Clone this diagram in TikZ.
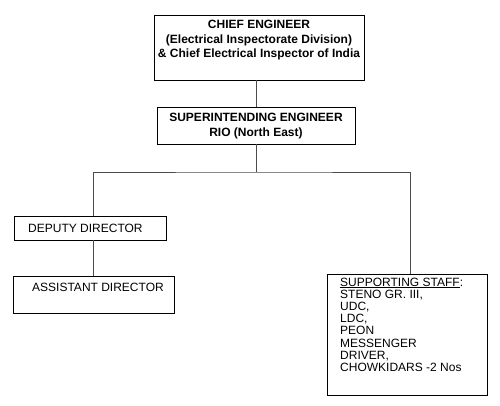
\documentclass[tikz,border=0pt]{standalone}
\usepackage{fontspec}
\setmainfont{Liberation Sans}

\begin{document}
\begin{tikzpicture}[x=1pt,y=-1pt,
        post/.style={draw,line width=0.8pt,inner sep=0pt},
        link/.style={draw=black!70,line width=0.8pt},
        bold/.style={font=\fontsize{12}{14.5}\selectfont\bfseries,align=center,inner sep=0pt},
        plain/.style={font=\fontsize{12}{12.2}\selectfont,align=left,inner sep=0pt}]
        \useasboundingbox (0,0) rectangle (500,405);
        % boxes
        \node[post,minimum width=210pt,minimum height=65pt] (chief) at (259,47.5) {};
        \node[post,minimum width=198pt,minimum height=37pt] (super) at (256,125.5) {};
        \node[post,minimum width=152pt,minimum height=24pt] (deputy) at (90,228) {};
        \node[post,minimum width=161pt,minimum height=37pt] (assist) at (93.5,294.5) {};
        \node[post,minimum width=160pt,minimum height=121pt] (staff) at (407,334.5) {};
        % texts
        \node[bold] (chieftext) at (259,40.5) {CHIEF ENGINEER\\(Electrical Inspectorate Division)\\\& Chief Electrical Inspector of India};
        \node[bold] (supertext) at (256,126) {SUPERINTENDING ENGINEER\\RIO (North East)};
        \node[plain,anchor=west] (deputytext) at (28,228) {DEPUTY DIRECTOR};
        \node[plain,anchor=west] (assisttext) at (32,287) {ASSISTANT DIRECTOR};
        \node[plain,anchor=north west] (stafftext) at (340,277.5) {\underline{SUPPORTING STAFF}:\\STENO GR. III,\\UDC,\\LDC,\\PEON\\MESSENGER\\DRIVER,\\CHOWKIDARS -2 Nos};
        % connectors
        \coordinate (bus) at (256,172);
        \draw[link] (super.north) -- (super.north |- chief.south);
        \draw[link] (super.south) -- (bus);
        \draw[link] ([xshift=3pt]deputy.north) |- (bus) -| ([xshift=3pt]staff.north);
        \draw[link] ([xshift=3pt]deputy.south) -- ([xshift=3pt]deputy.south |- assist.north);
\end{tikzpicture}
\end{document}
